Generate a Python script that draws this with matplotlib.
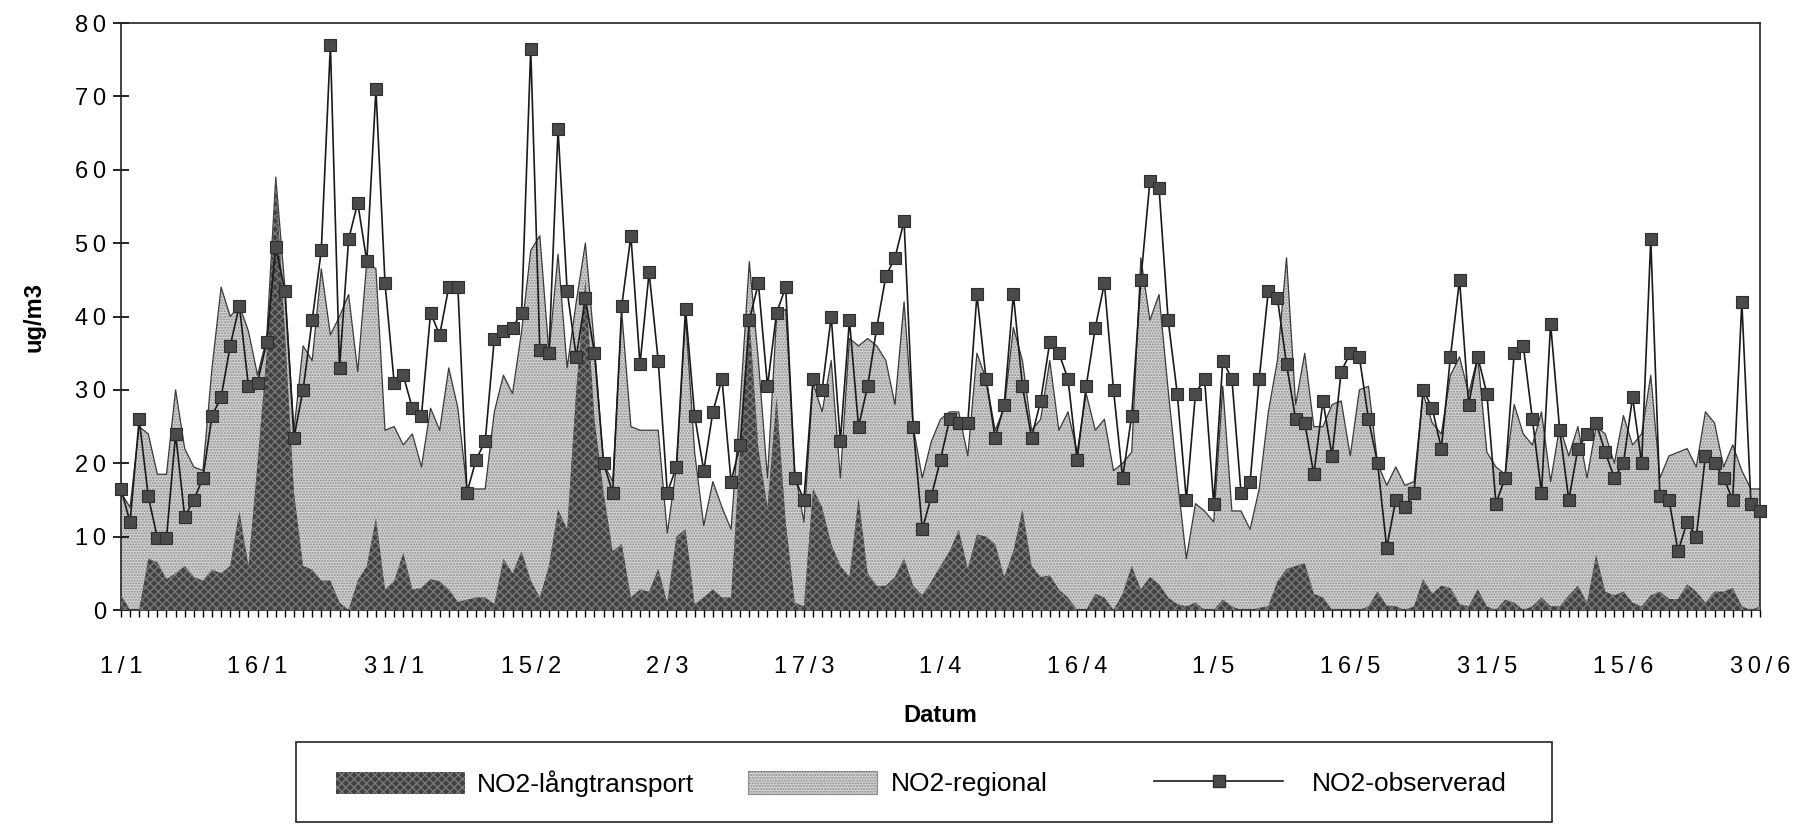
import numpy as np
import matplotlib
matplotlib.use("Agg")
import matplotlib.pyplot as plt
from matplotlib.patches import Patch, Rectangle
from matplotlib.lines import Line2D
from matplotlib.ticker import MultipleLocator, FixedLocator

# Daily NO2 concentrations (ug/m3), 1 Jan - 30 Jun
observed = [
    16.5, 12, 26, 15.5, 9.8, 9.8, 24, 12.7, 15, 18,
    26.5, 29, 36, 41.5, 30.5, 31, 36.5, 49.5, 43.5, 23.5,
    30, 39.5, 49, 77, 33, 50.5, 55.5, 47.5, 71, 44.5,
    31, 32, 27.5, 26.5, 40.5, 37.5, 44, 44, 16, 20.5,
    23, 37, 38, 38.5, 40.5, 76.5, 35.5, 35, 65.5, 43.5,
    34.5, 42.5, 35, 20, 16, 41.5, 51, 33.5, 46, 34,
    16, 19.5, 41, 26.5, 19, 27, 31.5, 17.5, 22.5, 39.5,
    44.5, 30.5, 40.5, 44, 18, 15, 31.5, 30, 40, 23,
    39.5, 25, 30.5, 38.5, 45.5, 48, 53, 25, 11, 15.5,
    20.5, 26, 25.5, 25.5, 43, 31.5, 23.5, 28, 43, 30.5,
    23.5, 28.5, 36.5, 35, 31.5, 20.5, 30.5, 38.5, 44.5, 30,
    18, 26.5, 45, 58.5, 57.5, 39.5, 29.5, 15, 29.5, 31.5,
    14.5, 34, 31.5, 16, 17.5, 31.5, 43.5, 42.5, 33.5, 26,
    25.5, 18.5, 28.5, 21, 32.5, 35, 34.5, 26, 20, 8.5,
    15, 14, 16, 30, 27.5, 22, 34.5, 45, 28, 34.5,
    29.5, 14.5, 18, 35, 36, 26, 16, 39, 24.5, 15,
    22, 24, 25.5, 21.5, 18, 20, 29, 20, 50.5, 15.5,
    15, 8, 12, 10, 21, 20, 18, 15, 42, 14.5,
    13.5,
]

regional = [
    16, 14, 25, 24, 18.5, 18.5, 30, 22, 19.5, 19,
    33, 44, 40, 41.5, 38, 32, 37, 59, 44, 24.5,
    36, 34, 46.5, 37.5, 40, 43, 32.5, 47.5, 46.5, 24.5,
    25, 22.5, 24, 19.5, 27.5, 24.5, 33, 27.5, 16.5, 16.5,
    16.5, 27, 32, 29.5, 38, 49, 51, 35, 48.5, 33,
    42, 50, 36, 20, 17.5, 40.5, 25, 24.5, 24.5, 24.5,
    10.5, 19.5, 40, 21.5, 11.5, 17.5, 14, 11, 28, 47.5,
    34, 18, 40, 41, 19, 12, 31, 27, 34, 18,
    37, 36, 37, 36, 34, 28, 42, 25, 18, 23,
    26, 27, 27, 21, 35, 31.5, 24.5, 27.5, 38.5, 34,
    24.5, 26, 34, 24.5, 27, 21.5, 29.5, 24.5, 26, 19,
    20, 21.5, 48, 39.5, 43, 30, 18, 7, 14.5, 13.5,
    12, 30.5, 13.5, 13.5, 11, 16.5, 27, 34, 48, 28,
    35, 25, 25, 28, 28.5, 21, 30, 30.5, 20, 17,
    19.5, 17, 17.5, 29.5, 25.5, 24, 32, 34.5, 29.5, 34.5,
    21.5, 19.5, 18.5, 28, 24, 22.5, 27, 17.5, 25, 21,
    25, 18, 25, 24, 20, 26.5, 22.5, 24, 32, 18,
    21, 21.5, 22, 19.5, 27, 25.5, 19.5, 22.5, 19, 16.5,
    16.5,
]

langtransport = [
    2, 0, 0, 7, 6.5, 4.2, 5, 6, 4.5, 4,
    5.5, 5, 6, 13.5, 6, 20, 35, 59, 38, 16,
    6, 5.5, 4, 4, 1, 0, 4, 6, 12.5, 2.8,
    3.9, 7.8, 2.8, 3, 4.2, 3.9, 2.8, 1.1, 1.4, 1.7,
    1.7, 0.8, 7, 5, 8, 4, 1.7, 6, 13.7, 11,
    30, 45, 26, 16, 8, 9, 1.7, 2.8, 2.5, 5.6,
    1, 10, 11, 0.8, 1.7, 2.8, 1.7, 1.7, 22, 40,
    22, 14, 29, 12, 1, 0.5, 16.5, 14, 9, 6,
    4.5, 15.3, 5, 3.3, 3.3, 4.5, 7, 3.3, 2, 3.9,
    6, 8, 10.9, 5.6, 10.3, 10, 9, 4.5, 8, 13.7,
    6, 4.5, 4.7, 2.8, 1.7, 0, 0, 2.2, 1.7, 0,
    2.2, 6, 2.8, 4.5, 3.5, 1.7, 0.8, 0.5, 1, 0,
    0, 1.4, 0.5, 0, 0, 0.3, 0.5, 3.9, 5.6, 6,
    6.4, 2.2, 1.7, 0, 0, 0, 0, 0.5, 2.5, 0.6,
    0.5, 0, 0.5, 4.2, 2.2, 3.3, 3, 0.8, 0.5, 2.8,
    0.5, 0, 1.4, 1, 0, 0.5, 1.7, 0.5, 0.5, 2,
    3.3, 1, 7.5, 2.5, 2, 2.5, 1, 0.5, 2, 2.5,
    1.5, 1.5, 3.5, 2.5, 1, 2.5, 2.5, 3, 0.5, 0,
    0.5,
]

date_labels = ["1/1", "16/1", "31/1", "15/2", "2/3", "17/3", "1/4",
               "16/4", "1/5", "16/5", "31/5", "15/6", "30/6"]
y_ticks = [0, 10, 20, 30, 40, 50, 60, 70, 80]

series_names = ["NO2-långtransport", "NO2-regional", "NO2-observerad"]

FONT = ["Liberation Sans", "DejaVu Sans"]
plt.rcParams["font.family"] = FONT
plt.rcParams["hatch.linewidth"] = 1.0

DARK_FACE, DARK_HATCH = "#424242", "#787878"
LIGHT_FACE, LIGHT_HATCH = "#d4d4d4", "#8c8c8c"
MARKER_FACE = "#4a4a4a"


def tracked(s):
    """Loosely letter-spaced label text."""
    return "\u2009".join(s)


days = np.arange(len(observed))

fig = plt.figure(figsize=(18, 8.25), dpi=100)
ax = fig.add_axes([0.0672, 0.2606, 0.9106, 0.7115])

ax.fill_between(days, 0, regional, facecolor=LIGHT_FACE, hatch="......",
                edgecolor=LIGHT_HATCH, linewidth=0, zorder=1)
ax.plot(days, regional, color="#3a3a3a", lw=0.9, zorder=2)
ax.fill_between(days, 0, langtransport, facecolor=DARK_FACE, hatch="xxxx",
                edgecolor=DARK_HATCH, linewidth=0, zorder=3)
ax.plot(days, observed, color="#1a1a1a", lw=1.2, marker="s", ms=8.5,
        mfc=MARKER_FACE, mec="#2e2e2e", mew=0.8, zorder=4, clip_on=False)

ax.set_xlim(0, len(observed) - 1)
ax.set_ylim(y_ticks[0], y_ticks[-1])

ax.yaxis.set_major_locator(FixedLocator(y_ticks))
ax.set_yticklabels([tracked(str(v)) for v in y_ticks])
ax.tick_params(axis="y", direction="inout", length=11.5, width=1.2,
               pad=5, labelsize=17)

ax.xaxis.set_major_locator(FixedLocator(list(range(0, len(observed), 15))))
ax.xaxis.set_minor_locator(MultipleLocator(1))
ax.set_xticklabels([tracked(s) for s in date_labels])
ax.tick_params(axis="x", which="both", direction="out", length=5, width=1.0)
ax.tick_params(axis="x", which="major", pad=28, labelsize=17)

for sp in ax.spines.values():
    sp.set_linewidth(1.2)
    sp.set_color("#222222")

ax.set_ylabel("ug/m3", fontsize=17, fontweight="bold")
ax.yaxis.set_label_coords(-0.046, 0.5)
ax.set_xlabel("Datum", fontsize=17, fontweight="bold")
ax.xaxis.set_label_coords(0.5, -0.16)

# Legend: framed strip with three entries
fig.add_artist(Rectangle((296 / 1800, 3 / 825), (1552 - 296) / 1800, 80 / 825,
                         transform=fig.transFigure, fill=False,
                         edgecolor="#222222", lw=1.2))

handles = [
    Patch(facecolor=DARK_FACE, hatch="xxxx", edgecolor=DARK_HATCH, lw=0),
    Patch(facecolor=LIGHT_FACE, hatch="......", edgecolor=LIGHT_HATCH, lw=0.8),
    Line2D([], [], color="#1a1a1a", lw=1.2, marker="s", ms=8.5,
           mfc=MARKER_FACE, mec="#2e2e2e"),
]
starts = [336 / 1800, 748 / 1800, 1154 / 1800]
textpads = [0.45, 0.5, 1.1]
for h, name, x0, tp in zip(handles, series_names, starts, textpads):
    fig.legend([h], [name], loc="center left", bbox_to_anchor=(x0, 0.05),
               frameon=False, fontsize=19, handlelength=4.9,
               handleheight=0.95, handletextpad=tp, borderpad=0,
               borderaxespad=0)

fig.savefig("out.png", dpi=100, facecolor="white")
